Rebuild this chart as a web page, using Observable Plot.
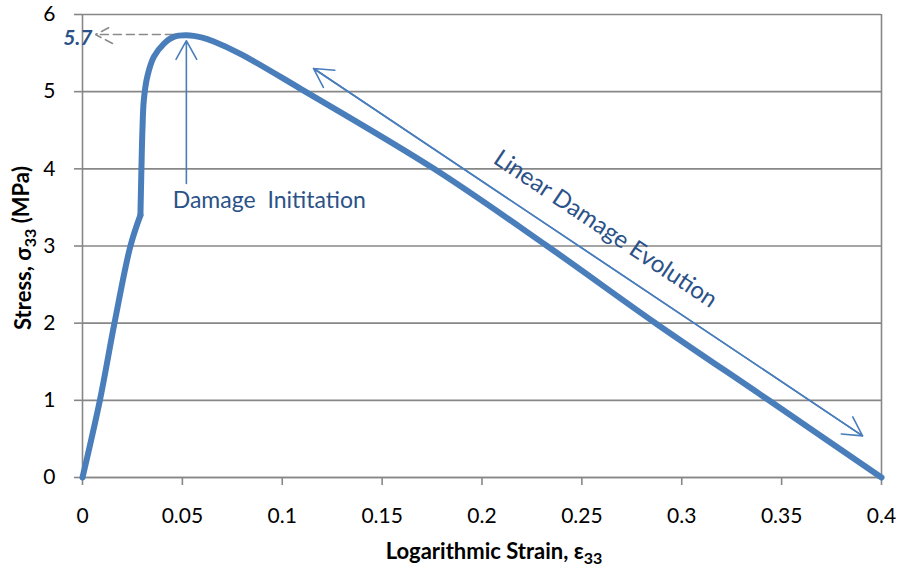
<!DOCTYPE html>
<html>
<head>
<meta charset="utf-8">
<script src="https://cdn.jsdelivr.net/npm/d3@7"></script>
<script src="https://cdn.jsdelivr.net/npm/@observablehq/plot@0.6"></script>
<style>
  html, body { margin: 0; padding: 0; background: #ffffff; }
  #chart { width: 903px; height: 573px; }
</style>
</head>
<body>
<div id="chart"></div>
<script>
// ---- data ----
const strain = [0, 0.0087, 0.016, 0.024, 0.029, 0.0295, 0.0300, 0.0307, 0.0324, 0.0357, 0.0407, 0.0457, 0.052, 0.060, 0.0657, 0.079, 0.109, 0.176, 0.2326, 0.2869, 0.3436, 0.4];
const stress = [0, 1.0, 2.0, 3.0, 3.40, 4.0, 4.5, 4.89, 5.19, 5.45, 5.62, 5.71, 5.73, 5.70, 5.65, 5.49, 5.04, 4.0, 3.0, 2.0, 1.0, 0];
const kinkIndex = 4; // sharp corner where the near-vertical rise starts

const xTicks = [0, 0.05, 0.1, 0.15, 0.2, 0.25, 0.3, 0.35, 0.4];
const yTicks = [0, 1, 2, 3, 4, 5, 6];

// peak annotation (dashed arrow to the axis, label "5.7")
const peakLabel = ["5.7"];
const peakX = [0.052];
const peakY = [5.74];
const peakArrowEndX = [0.0065];
const peakLabelX = [0.005];
const peakLabelY = [5.69];

// "Damage Initiation" arrow and label
const initArrowX = [0.052];
const initArrowY1 = [3.81];
const initArrowY2 = [5.66];
const initLabel = ["Damage  Inititation"];
const initLabelX = [0.0935];
const initLabelY = [3.59];

// "Linear Damage Evolution" double arrow and label
const evoX1 = [0.1157];
const evoY1 = [5.30];
const evoX2 = [0.3905];
const evoY2 = [0.54];
const evoLabel = ["Linear Damage Evolution"];
const evoLabelX = [0.2618];
const evoLabelY = [3.22];
const evoAngle = 33.8;

const curveData = strain.map((s, i) => ({strain: s, stress: stress[i]}));

const GRID = "#878787";
const LINE = "#4a7ebb";
const TEXT = "#2b5288";

const chart = Plot.plot({
  width: 903,
  height: 573,
  marginLeft: 82,
  marginRight: 22,
  marginTop: 14,
  marginBottom: 96,
  style: {fontFamily: "Lato, 'Open Sans', sans-serif", fontSize: "21px", color: "#000", background: "#fff", overflow: "visible"},
  x: {domain: [0, 0.4]},
  y: {domain: [0, 6]},
  marks: [
    Plot.gridY(yTicks, {stroke: GRID, strokeOpacity: 1, strokeWidth: 1.6}),
    Plot.ruleX([0.4], {stroke: GRID, strokeWidth: 1.6}),
    Plot.ruleX([0], {stroke: GRID, strokeWidth: 1.6}),
    Plot.ruleY([0], {stroke: GRID, strokeWidth: 1.6}),
    Plot.axisX(xTicks, {tickSize: 8, tickPadding: 23, tickFormat: d => String(d), label: null, stroke: GRID, strokeWidth: 1.6, fill: "#000"}),
    Plot.axisY(yTicks, {tickSize: 8, text: null, label: null, stroke: GRID, strokeWidth: 1.6}),
    Plot.text(yTicks, {y: d => d, text: d => String(d), frameAnchor: "left", dx: -27, textAnchor: "end", fill: "#000", fontSize: 21}),
    // dashed arrow at the peak
    Plot.arrow(peakX, {x1: d => d, y1: (d, i) => peakY[i], x2: (d, i) => peakArrowEndX[i], y2: (d, i) => peakY[i],
      stroke: "#8a8a8a", strokeWidth: 1.6, strokeDasharray: "8,5", headLength: 18, headAngle: 55}),
    Plot.text(peakLabel, {x: (d, i) => peakLabelX[i], y: (d, i) => peakLabelY[i], text: d => d, textAnchor: "end",
      fill: TEXT, fontSize: 21, fontWeight: "bold", fontStyle: "italic"}),
    // damage initiation arrow
    Plot.arrow(initArrowX, {x1: d => d, y1: (d, i) => initArrowY1[i], x2: d => d, y2: (d, i) => initArrowY2[i],
      stroke: LINE, strokeWidth: 1.6, headLength: 20, headAngle: 58}),
    Plot.text(initLabel, {x: (d, i) => initLabelX[i], y: (d, i) => initLabelY[i], text: d => d,
      fill: TEXT, fontSize: 23}),
    // linear damage evolution double arrow
    Plot.arrow(evoX1, {x1: d => d, y1: (d, i) => evoY1[i], x2: (d, i) => evoX2[i], y2: (d, i) => evoY2[i],
      stroke: LINE, strokeWidth: 1.6, headLength: 20, headAngle: 58}),
    Plot.arrow(evoX1, {x1: (d, i) => evoX2[i], y1: (d, i) => evoY2[i], x2: d => d, y2: (d, i) => evoY1[i],
      stroke: LINE, strokeWidth: 1.6, headLength: 20, headAngle: 58}),
    Plot.text(evoLabel, {x: (d, i) => evoLabelX[i], y: (d, i) => evoLabelY[i], text: d => d, rotate: evoAngle,
      fill: TEXT, fontSize: 24}),
    // the stress-strain curve: elastic part up to the kink, then the rise, peak and softening
    Plot.line(curveData.filter((d, i) => i <= kinkIndex), {x: "strain", y: "stress", stroke: LINE, strokeWidth: 6, curve: "catmull-rom", strokeLinejoin: "round", strokeLinecap: "round"}),
    Plot.line(curveData.filter((d, i) => i >= kinkIndex), {x: "strain", y: "stress", stroke: LINE, strokeWidth: 6, curve: "catmull-rom", strokeLinejoin: "round", strokeLinecap: "round"})
  ]
});

const svg = d3.select(chart);
// x axis title
const xt = svg.append("text")
  .attr("x", 494).attr("y", 559)
  .attr("text-anchor", "middle")
  .attr("font-weight", "bold").attr("font-size", 22).attr("fill", "#000");
xt.append("tspan").text("Logarithmic Strain, ε");
xt.append("tspan").attr("dy", "0.3em").attr("font-size", 16).text("33");
// y axis title
const yt = svg.append("text")
  .attr("transform", "translate(31,248) rotate(-90)")
  .attr("text-anchor", "middle")
  .attr("font-weight", "bold").attr("font-size", 22).attr("fill", "#000");
yt.append("tspan").text("Stress, σ");
yt.append("tspan").attr("dy", "0.3em").attr("font-size", 16).text("33");
yt.append("tspan").attr("dy", "-0.3em").text(" (MPa)");

document.getElementById("chart").appendChild(chart);
</script>
</body>
</html>
